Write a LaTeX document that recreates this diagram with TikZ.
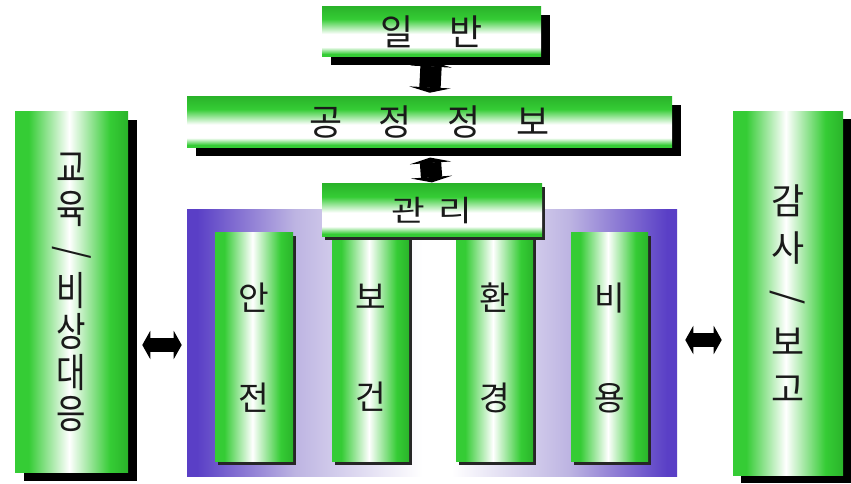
\documentclass[tikz,border=0pt]{standalone}
\usepackage{fontspec}
\usepackage{graphicx}
\newfontfamily\kr{Noto Sans CJK KR}
\newfontfamily\krnarrow[FakeStretch=0.8]{Noto Sans CJK KR}
\newfontfamily\krwide[FakeStretch=1.25]{Noto Sans CJK KR}
\usetikzlibrary{arrows.meta,shadows}
\definecolor{gA}{HTML}{35CC35}
\definecolor{gD}{HTML}{2AB42A}
\definecolor{pu}{HTML}{5A3FC6}
\definecolor{lav}{HTML}{BDB4E2}
\definecolor{txt}{HTML}{1A1A1A}
\pgfdeclarehorizontalshading{colshade}{100bp}{color(0bp)=(gA); color(25bp)=(gA); color(31bp)=(gA); color(49bp)=(white); color(67bp)=(gA); color(75bp)=(gD); color(100bp)=(gD)}
\pgfdeclareverticalshading{rowshade}{100bp}{color(0bp)=(gA); color(25bp)=(gA); color(28bp)=(gA); color(35bp)=(white); color(48bp)=(white); color(63bp)=(gA); color(75bp)=(gD); color(100bp)=(gD)}
\pgfdeclarehorizontalshading{bgshade}{100bp}{color(0bp)=(pu); color(26bp)=(pu); color(36bp)=(lav); color(49bp)=(white); color(52bp)=(white); color(64bp)=(lav); color(74bp)=(pu); color(100bp)=(pu)}
\begin{document}
\begin{tikzpicture}[x=0.75pt,y=-0.75pt,
  every node/.style={inner sep=0pt, text=txt},
  sz/.style 2 args={minimum width=#1*0.75pt, minimum height=#2*0.75pt},
  rowbox/.style={shade, shading=rowshade},
  colbox/.style={shade, shading=colshade},
  bigshadow/.style={general shadow={fill=black, shadow xshift=7pt, shadow yshift=-6pt}},
  smallshadow/.style={general shadow={fill=black!85, shadow xshift=2pt, shadow yshift=-2pt}},
  hdarrow/.style={line width=11pt, {Triangle[width=21pt,length=6pt]}-{Triangle[width=21pt,length=6pt]}},
  vdarrow/.style={line width=16pt, {Triangle[width=31pt,length=4pt]}-{Triangle[width=31pt,length=4pt]}},
  rowfont/.style={font=\kr\fontsize{27pt}{32pt}\selectfont},
  colfont/.style={font=\kr\fontsize{25pt}{75pt}\selectfont, align=center},
]
\fill[white] (0,0) rectangle (851,484);
\useasboundingbox (0,0) rectangle (851,484);

% purple background panel
\node[shade, shading=bgshade, sz={490}{267}] (bg) at (432,343.5) {};

% four columns
\node[colbox, smallshadow, colfont, sz={78}{229}] (c1) at (254,347.5) {안\\전};
\node[colbox, smallshadow, colfont, sz={77}{229}] (c2) at (370.5,347.5) {보\\건};
\node[colbox, smallshadow, colfont, sz={77}{229}] (c3) at (494.5,347.5) {환\\경};
\node[colbox, smallshadow, colfont, sz={77}{229}] (c4) at (609.5,347.5) {비\\용};

% management box
\node[rowbox, smallshadow, font=\krwide\fontsize{22pt}{26pt}\selectfont, sz={220}{53}] (mgmt) at (432,210.5) {관\hspace{10.5pt}리};

% top boxes
\node[rowbox, bigshadow, rowfont, sz={219}{50}] (gen) at (431.5,32) {일\hspace{1em}반};
\node[rowbox, bigshadow, rowfont, sz={485}{51}] (proc) at (429.5,122.5) {공\hspace{1em}정\hspace{1em}정\hspace{1em}보\hspace{15pt}};
\draw[vdarrow, shorten <=3pt, shorten >=3pt] (gen.south) -- (proc.north);
\draw[vdarrow, shorten <=7pt, shorten >=1pt] (proc.south) -- (mgmt.north);

% side boxes
\node[colbox, bigshadow, font=\krnarrow\fontsize{30pt}{30.75pt}\selectfont, align=center, sz={113}{361}] (edu) at (71.5,292.5)
  {교\\육\\\rotatebox[origin=c]{-90}{/}\\비\\상\\대\\응};
\node[colbox, general shadow={fill=black, shadow xshift=6pt, shadow yshift=-5pt}, font=\kr\fontsize{27pt}{35.25pt}\selectfont, align=center, sz={110}{364}] (audit) at (788,294)
  {감\\사\\\rotatebox[origin=c]{-90}{/}\\보\\고};

% horizontal double arrows
\coordinate (ly) at (0,345);
\coordinate (ry) at (0,340);
\draw[hdarrow, shorten <=10.5pt, shorten >=3.75pt] (edu.east |- ly) -- (bg.west |- ly);
\draw[hdarrow, shorten <=6pt, shorten >=8.25pt] (bg.east |- ry) -- (audit.west |- ry);
\end{tikzpicture}
\end{document}
